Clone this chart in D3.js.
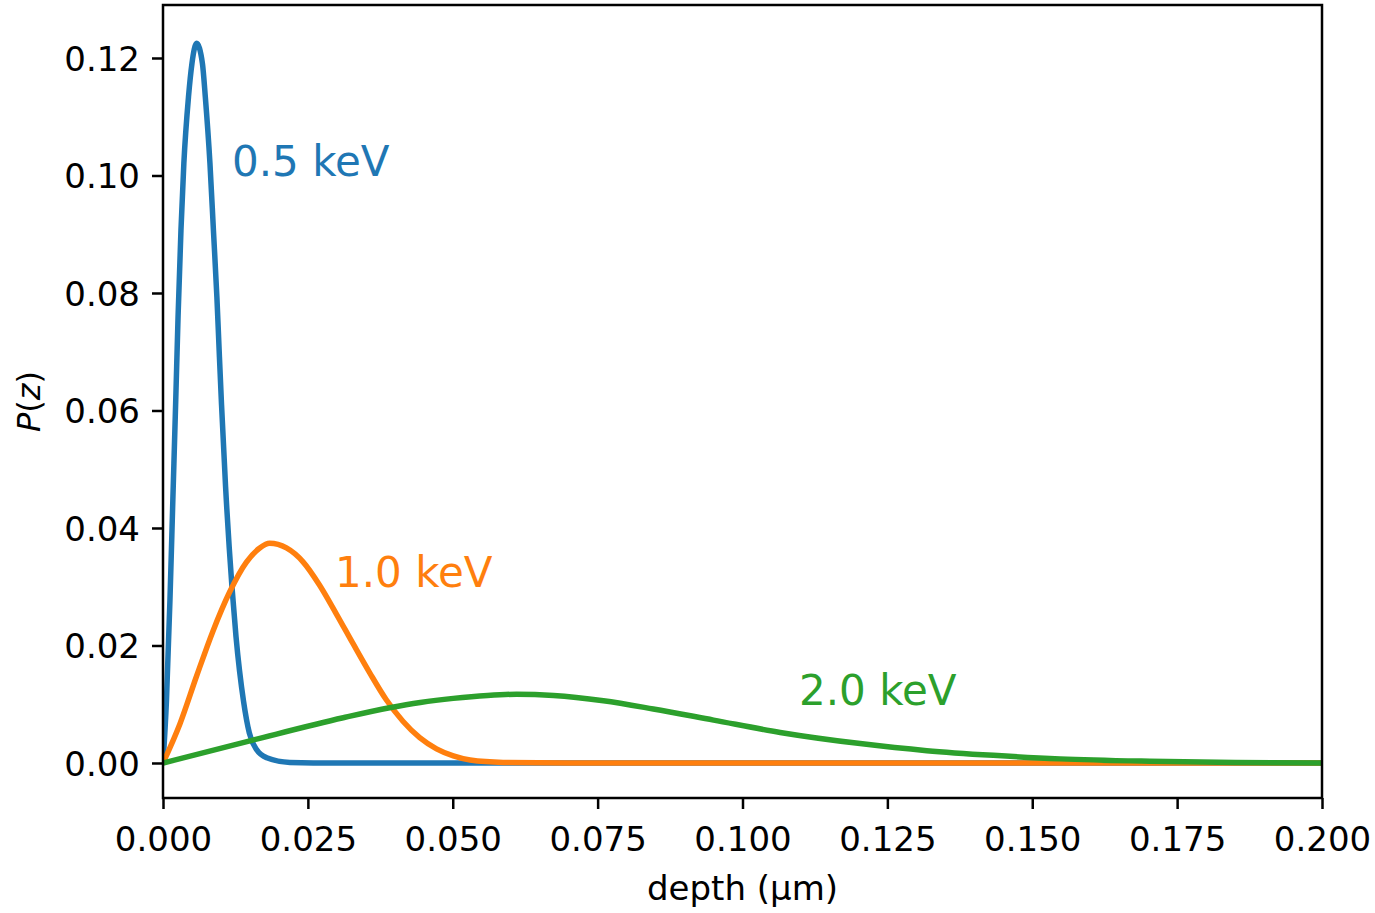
<!DOCTYPE html>
<html>
<head>
<meta charset="utf-8">
<script src="https://cdn.jsdelivr.net/npm/d3@7"></script>
<style>
  body { margin: 0; background: #fff; }
  text { font-family: "DejaVu Sans", sans-serif; }
</style>
</head>
<body>
<div id="chart"></div>
<script>
var depth05 = [0, 0.0006, 0.0012, 0.0017, 0.0022, 0.0026, 0.0031, 0.0036, 0.0044, 0.0050, 0.0058, 0.0068, 0.0073, 0.0081, 0.0087, 0.0093, 0.0097, 0.0101, 0.0108, 0.0119, 0.0126, 0.0139, 0.0149, 0.0162, 0.0179, 0.0219, 0.03, 0.05, 0.1, 0.15, 0.2];
var p05 = [0, 0.0107, 0.0277, 0.0448, 0.0618, 0.0760, 0.0907, 0.1021, 0.1134, 0.1191, 0.1225, 0.1191, 0.1134, 0.1021, 0.0907, 0.0793, 0.0700, 0.0610, 0.0470, 0.0300, 0.0215, 0.0105, 0.0051, 0.0022, 0.0009, 0.0001, 0, 0, 0, 0, 0];

var depth10 = [0, 0.0029, 0.0058, 0.0086, 0.0115, 0.0144, 0.0167, 0.0184, 0.0213, 0.0242, 0.0270, 0.0299, 0.0328, 0.0357, 0.0385, 0.0414, 0.0443, 0.0472, 0.0501, 0.0530, 0.0587, 0.07, 0.1, 0.15, 0.2];
var p10 = [0, 0.0066, 0.0148, 0.0224, 0.0291, 0.0342, 0.0366, 0.0374, 0.0366, 0.0342, 0.0303, 0.0254, 0.0203, 0.0153, 0.0108, 0.0071, 0.0043, 0.0024, 0.0012, 0.0005, 0.0001, 0, 0, 0, 0];

var depth20 = [0, 0.0155, 0.0311, 0.0391, 0.0444, 0.0501, 0.0560, 0.0610, 0.0674, 0.0760, 0.0846, 0.0950, 0.1065, 0.1203, 0.1318, 0.1433, 0.1548, 0.1703, 0.1850, 0.2];
var p20 = [0, 0.0039, 0.0077, 0.0094, 0.0103, 0.0110, 0.0115, 0.0117, 0.0115, 0.0106, 0.0092, 0.0073, 0.0052, 0.0033, 0.0021, 0.0013, 0.0007, 0.0003, 0.0001, 0];

var seriesNames = ["0.5 keV", "1.0 keV", "2.0 keV"];
var xTicks = [0, 0.025, 0.05, 0.075, 0.1, 0.125, 0.15, 0.175, 0.2];
var yTicks = [0, 0.02, 0.04, 0.06, 0.08, 0.10, 0.12];

var width = 1375,
    height = 913,
    axLeft = 163, axRight = 1322, axTop = 5, axBottom = 798;

var colors = ["#1f77b4", "#ff7f0e", "#2ca02c"];
// label anchor positions in pixels (text start, baseline)
var labelPos = [[232, 176], [335, 587], [799, 705]];

var x = d3.scaleLinear().domain([0, 0.2]).range([axLeft, axRight]);
var y = d3.scaleLinear().domain([-0.00596, 0.12902]).range([axBottom, axTop]);

var series = [
  d3.zip(depth05, p05),
  d3.zip(depth10, p10),
  d3.zip(depth20, p20)
];

var svg = d3.select("#chart").append("svg")
    .attr("width", width)
    .attr("height", height);

var line = d3.line()
    .x(function(d) { return x(d[0]); })
    .y(function(d) { return y(d[1]); })
    .curve(d3.curveMonotoneX);

svg.append("defs").append("clipPath").attr("id", "clip")
  .append("rect")
    .attr("x", axLeft).attr("y", axTop)
    .attr("width", axRight - axLeft).attr("height", axBottom - axTop);

svg.append("g").attr("clip-path", "url(#clip)")
  .selectAll("path").data(series).enter().append("path")
    .attr("d", line)
    .attr("fill", "none")
    .attr("stroke", function(d, i) { return colors[i]; })
    .attr("stroke-width", 5.5)
    .attr("stroke-linejoin", "round")
    .attr("stroke-linecap", "butt");

svg.selectAll(".lab").data(seriesNames).enter().append("text")
    .attr("class", "lab")
    .attr("x", function(d, i) { return labelPos[i][0]; })
    .attr("y", function(d, i) { return labelPos[i][1]; })
    .attr("fill", function(d, i) { return colors[i]; })
    .style("font-size", "42px")
    .text(function(d) { return d; });

var xAxis = svg.append("g")
    .attr("transform", "translate(0," + axBottom + ")")
    .call(d3.axisBottom(x).tickValues(xTicks).tickFormat(d3.format(".3f")).tickSize(11));
xAxis.select(".domain").remove();
xAxis.selectAll(".tick line").attr("stroke", "#000").attr("stroke-width", 2.5);
xAxis.selectAll(".tick text")
    .attr("y", 53).attr("dy", null)
    .attr("fill", "#000")
    .style("font-size", "34px");

var yAxis = svg.append("g")
    .attr("transform", "translate(" + axLeft + ",0)")
    .call(d3.axisLeft(y).tickValues(yTicks).tickFormat(d3.format(".2f")).tickSize(11));
yAxis.select(".domain").remove();
yAxis.selectAll(".tick line").attr("stroke", "#000").attr("stroke-width", 2.5);
yAxis.selectAll(".tick text")
    .attr("x", -23).attr("dy", "0.36em")
    .attr("fill", "#000")
    .style("font-size", "34px");

svg.append("rect")
    .attr("x", axLeft).attr("y", axTop)
    .attr("width", axRight - axLeft).attr("height", axBottom - axTop)
    .attr("fill", "none")
    .attr("stroke", "#000")
    .attr("stroke-width", 2.5);

svg.append("text")
    .attr("x", (axLeft + axRight) / 2)
    .attr("y", 900)
    .attr("text-anchor", "middle")
    .style("font-size", "34px")
    .text("depth (μm)");

var yl = svg.append("text")
    .attr("transform", "translate(40," + (axTop + axBottom) / 2 + ") rotate(-90)")
    .attr("text-anchor", "middle")
    .style("font-size", "32px");
yl.append("tspan").style("font-style", "italic").text("P");
yl.append("tspan").text("(");
yl.append("tspan").style("font-style", "italic").text("z");
yl.append("tspan").text(")");
</script>
</body>
</html>
